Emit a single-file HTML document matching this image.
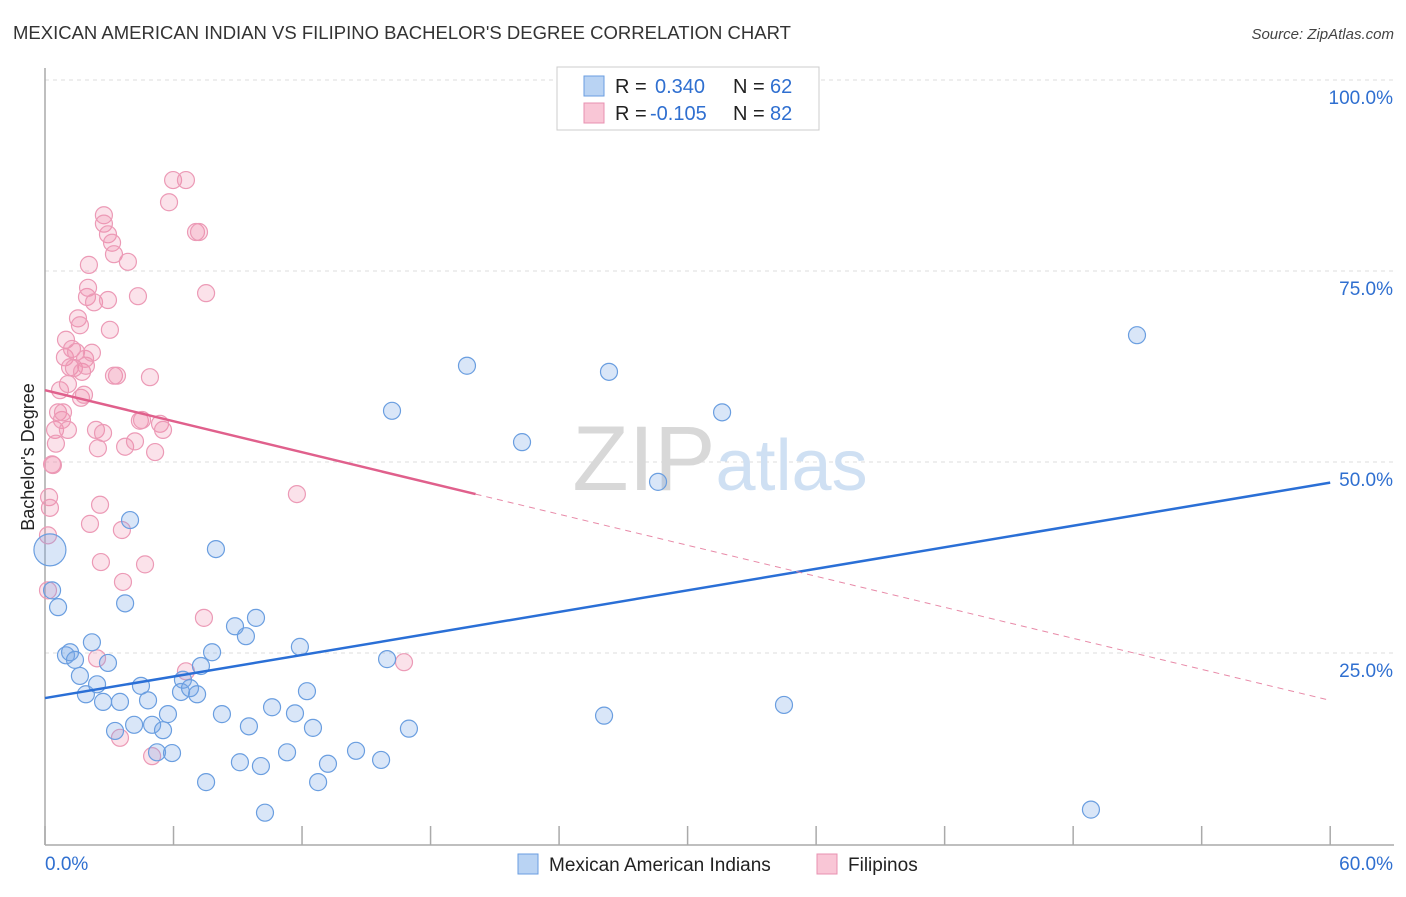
<!DOCTYPE html>
<html><head><meta charset="utf-8"><style>
body{margin:0;background:#fff;font-family:"Liberation Sans",sans-serif;}
svg text{font-family:"Liberation Sans",sans-serif;}
</style></head><body>
<svg id="chart" width="1406" height="892" xmlns="http://www.w3.org/2000/svg">
<text x="13" y="39" font-size="18.5" fill="#333">MEXICAN AMERICAN INDIAN VS FILIPINO BACHELOR'S DEGREE CORRELATION CHART</text>
<text x="1394" y="39" font-size="15" fill="#444" text-anchor="end" font-style="italic">Source: ZipAtlas.com</text>
<g id="grid"></g>
<text x="720" y="490" font-size="92" text-anchor="middle" fill="#ddd" font-family="Liberation Serif"><tspan fill="#d8d8d8">ZIP</tspan><tspan fill="#cfe0f3" font-family="Liberation Sans" font-size="72">atlas</tspan></text>
<g id="axes"></g>
<g id="pts"></g>
<g id="trends"></g>
<text transform="translate(34,457) rotate(-90)" font-size="18" fill="#222" text-anchor="middle">Bachelor's Degree</text>
<g>
<rect x="557" y="67" width="262" height="63" fill="#fff" stroke="#ccc"/>
<rect x="584" y="76" width="20" height="20" fill="#b9d3f3" stroke="#6a9ee0"/>
<rect x="584" y="103" width="20" height="20" fill="#f9c6d6" stroke="#e890b0"/>
<text x="615" y="93" font-size="20" fill="#222">R =</text>
<text x="655" y="93" font-size="20" fill="#2f6fd0">0.340</text>
<text x="733" y="93" font-size="20" fill="#222">N =</text>
<text x="770" y="93" font-size="20" fill="#2f6fd0">62</text>
<text x="615" y="120" font-size="20" fill="#222">R =</text>
<text x="650" y="120" font-size="20" fill="#2f6fd0">-0.105</text>
<text x="733" y="120" font-size="20" fill="#222">N =</text>
<text x="770" y="120" font-size="20" fill="#2f6fd0">82</text>
</g>
<g>
<rect x="518" y="854" width="20" height="20" fill="#b9d3f3" stroke="#6a9ee0"/>
<text x="549" y="871" font-size="19" fill="#222">Mexican American Indians</text>
<rect x="817" y="854" width="20" height="20" fill="#f9c6d6" stroke="#e890b0"/>
<text x="848" y="871" font-size="19" fill="#222">Filipinos</text>
</g>
</svg>
<script>
const blueX=[0.23,0.33,0.61,0.98,1.17,1.40,1.63,1.91,2.19,2.43,2.71,2.94,3.27,3.50,3.74,3.97,4.16,4.48,4.81,5.00,5.23,5.51,5.74,5.93,6.35,6.44,6.77,7.10,7.28,7.52,7.80,7.98,8.26,8.87,9.10,9.38,9.52,9.85,10.08,10.27,10.60,11.30,11.67,11.90,12.23,12.51,12.75,13.21,14.52,15.69,15.97,16.20,16.99,19.70,22.27,26.10,26.33,28.62,31.61,34.50,48.83,50.98];
const blueY=[38.5,33.2,31.0,24.7,25.1,24.1,22.0,19.6,26.4,20.9,18.6,23.7,14.8,18.6,31.5,42.4,15.6,20.7,18.8,15.6,12.0,14.9,17.0,11.9,19.9,21.5,20.4,19.6,23.3,8.1,25.1,38.6,17.0,28.5,10.7,27.2,15.4,29.6,10.2,4.1,17.9,12.0,17.1,25.8,20.0,15.2,8.1,10.5,12.2,11.0,24.2,56.7,15.1,62.6,52.6,16.8,61.8,47.4,56.5,18.2,4.5,66.6];
const pinkX=[0.14,0.14,0.19,0.23,0.33,0.37,0.47,0.51,0.61,0.70,0.79,0.84,0.93,0.98,1.07,1.07,1.17,1.26,1.35,1.45,1.54,1.63,1.68,1.73,1.82,1.87,1.91,1.96,2.01,2.05,2.10,2.19,2.29,2.38,2.43,2.47,2.57,2.61,2.71,2.75,2.75,2.94,2.94,3.03,3.13,3.22,3.22,3.36,3.50,3.59,3.64,3.74,3.87,4.20,4.34,4.43,4.53,4.67,4.90,5.00,5.14,5.37,5.51,5.79,5.98,6.58,6.58,7.05,7.19,7.42,7.52,11.76,16.76];
const pinkY=[33.2,40.4,45.4,44.0,49.7,49.6,54.2,52.4,56.5,59.4,55.5,56.5,63.7,66.0,60.2,54.2,62.4,64.8,62.3,64.4,68.8,67.9,58.4,61.8,58.8,63.5,62.6,71.6,72.8,75.8,41.9,64.3,70.9,54.2,24.3,51.8,44.4,36.9,53.8,82.3,81.2,71.2,79.8,67.3,78.7,61.3,77.2,61.3,13.9,41.1,34.3,52.0,76.2,52.7,71.7,55.4,55.5,36.6,61.1,11.5,51.3,55.0,54.2,84.0,86.9,86.9,22.6,80.1,80.1,29.6,72.1,45.8,23.8];
const blueTrend=[19.1,47.3];
const pinkTrend=[59.4,18.8];
const pinkSolidEnd=20.1;
const yTicks=[25,50,75,100];
const yTickLabels=["25.0%","50.0%","75.0%","100.0%"];
const xTicks=[0,6,12,18,24,30,36,42,48,54,60];
const NS="http://www.w3.org/2000/svg";
const X=v=>45+v*21.42, Y=v=>844-v*7.64;
function mk(t,a,p){const e=document.createElementNS(NS,t);for(const k in a)e.setAttribute(k,a[k]);p.appendChild(e);return e;}
const grid=document.getElementById('grid'),axes=document.getElementById('axes');
yTicks.forEach((v,i)=>{
 const l=mk('line',{x1:45,x2:1394,y1:Y(v),y2:Y(v),stroke:'#ddd','stroke-dasharray':'4,4'},grid);
 
 
 const t=mk('text',{x:1393,y:Y(v)+24,'font-size':19,fill:'#2f6fd0','text-anchor':'end'},axes);
 t.textContent=yTickLabels[i];
 
 
});
mk('line',{x1:45,x2:45,y1:68,y2:845,stroke:'#aaa','stroke-width':1.5},axes);
mk('line',{x1:45,x2:1394,y1:845,y2:845,stroke:'#aaa','stroke-width':1.5},axes);
xTicks.forEach(v=>{
 const l=mk('line',{x1:X(v),x2:X(v),y1:826,y2:845,stroke:'#aaa','stroke-width':1.5},axes);
 
 
});
let t=mk('text',{x:45,y:870,'font-size':19,fill:'#2f6fd0'},axes);t.textContent='0.0%';


t=mk('text',{x:1393,y:870,'font-size':19,fill:'#2f6fd0','text-anchor':'end'},axes);t.textContent='60.0%';


const pts=document.getElementById('pts');
pinkX.forEach((x,i)=>{
 const c=mk('circle',{cx:X(x),cy:Y(pinkY[i]),r:8.5,fill:'rgba(240,140,170,0.25)',stroke:'#ec9ab6','stroke-width':1.2},pts);
 
 
});
blueX.forEach((x,i)=>{
 const c=mk('circle',{cx:X(x),cy:Y(blueY[i]),r:i==0?16:8.5,fill:'rgba(120,165,230,0.28)',stroke:'#6a9ee0','stroke-width':1.2},pts);
 
 
});
const tr=document.getElementById('trends');
const py=x=>pinkTrend[0]+(pinkTrend[1]-pinkTrend[0])*x/60;
let l=mk('line',{x1:X(0),y1:Y(blueTrend[0]),x2:X(60),y2:Y(blueTrend[1]),stroke:'#2a6fd6','stroke-width':2.5},tr);


l=mk('line',{x1:X(0),y1:Y(py(0)),x2:X(pinkSolidEnd),y2:Y(py(pinkSolidEnd)),stroke:'#e0608c','stroke-width':2.5},tr);


l=mk('line',{x1:X(pinkSolidEnd),y1:Y(py(pinkSolidEnd)),x2:X(60),y2:Y(py(60)),stroke:'#e88aa8','stroke-width':1,'stroke-dasharray':'6,5'},tr);


</script>
</body></html>
